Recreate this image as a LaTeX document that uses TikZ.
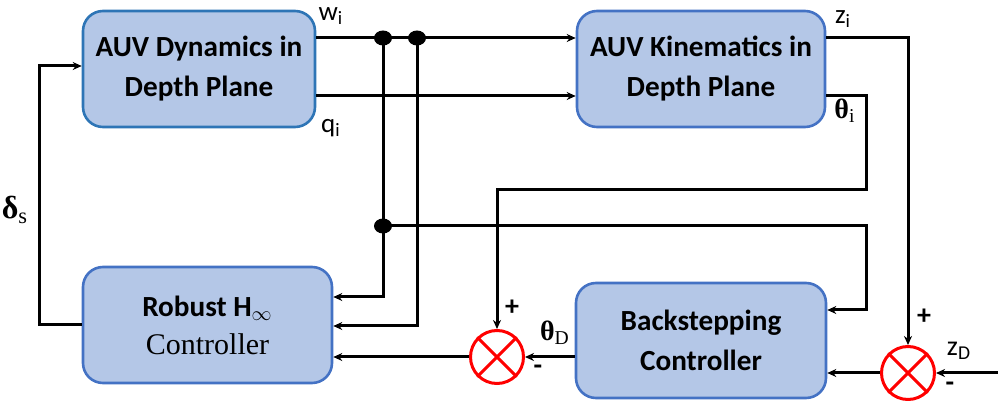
\documentclass[tikz,border=0pt]{standalone}
\usepackage{fontspec}
\setmainfont{Carlito}
\newfontfamily\seriffont{Liberation Serif}
\usetikzlibrary{arrows.meta,calc}
\definecolor{boxfill}{HTML}{B4C7E7}
\definecolor{boxborder}{HTML}{4472C4}
\definecolor{boxborderB}{HTML}{2E75B6}
\definecolor{sumred}{HTML}{FF0000}
\begin{document}
\begin{tikzpicture}[x=0.5pt,y=-0.5pt,
  blk/.style={draw=boxborder, fill=boxfill, line width=1.3pt, rounded corners=10pt,
    inner sep=0pt, align=center, font=\fontsize{14.6}{20}\selectfont\bfseries},
  sumnode/.style={circle, draw=sumred, line width=1.5pt, minimum size=26.5pt, inner sep=0pt},
  conn/.style={line width=1.5pt, black},
  arr/.style={conn, -{Stealth[length=4.5pt,width=4pt]}},
  lbl/.style={font=\fontsize{13.5}{15}\selectfont, inner sep=0pt},
  grk/.style={font=\seriffont\fontsize{14}{16}\selectfont\bfseries, inner sep=0pt},
  sgn/.style={font=\fontsize{14}{16}\selectfont\bfseries, inner sep=0pt},
  jdot/.style={fill=black, draw=none}]
\useasboundingbox (0,0) rectangle (998,401);

% blocks
\node[blk, draw=boxborderB, minimum width=116pt, minimum height=58pt] (dyn) at (199,69) {AUV Dynamics in\\Depth Plane};
\node[blk, minimum width=124pt, minimum height=58pt] (kin) at (701,69) {AUV Kinematics in\\Depth Plane};
\node[blk, minimum width=124.5pt, minimum height=58pt] (rob) at (207.5,325)
  {Robust H$_{\infty}$\\[-1pt]{\seriffont\mdseries\fontsize{15}{16}\selectfont Controller}};
\node[blk, minimum width=125pt, minimum height=57.5pt] (bck) at (701,340.5) {Backstepping\\Controller};

% summing junctions
\node[sumnode] (s1) at (497,357) {};
\node[sumnode] (s2) at (908,373) {};
\foreach \s in {s1,s2}{
  \draw[sumred, line width=1.5pt] (\s.north west) -- (\s.south east);
  \draw[sumred, line width=1.5pt] (\s.north east) -- (\s.south west);
}

% coordinates
\coordinate (j1) at (383,38);
\coordinate (j2) at (417,38);
\coordinate (j3) at (383,226);
\coordinate (qa) at (450,96);
\coordinate (r1) at (360,297);
\coordinate (r2) at (400,326);
\coordinate (c1) at (866,226);
\coordinate (c2) at (866,310);
\coordinate (t1) at (866,96);
\coordinate (t2) at (866,190);
\coordinate (t3) at (497,190);
\coordinate (zc) at (908,38);
\coordinate (zin) at (998,373);
\coordinate (d1) at (39,325);
\coordinate (d2) at (39,66);

% connectors
\draw[arr] (dyn.east |- j1) -- (kin.west |- j1);
\draw[arr] (dyn.east |- qa) -- (kin.west |- qa);
\draw[arr] (j1) -- (j1 |- r1) -- (rob.east |- r1);
\draw[arr] (j2) -- (j2 |- r2) -- (rob.east |- r2);
\draw[arr] (j3) -- (c1) -- (c2) -- (bck.east |- c2);
\draw[arr] (kin.east |- t1) -- (t1) -- (t2) -- (t3) -- (s1.north);
\draw[arr] (kin.east |- zc) -- (zc) -- (s2.north);
\draw[arr] (zin) -- (s2.east);
\draw[arr] (s2.west) -- (bck.east |- s2);
\draw[arr] (bck.west |- s1) -- (s1.east);
\draw[arr] (s1.west) -- (rob.east |- s1);
\draw[arr] (rob.west |- d1) -- (d1) -- (d2) -- (dyn.west |- d2);

% junction dots
\foreach \j in {j1,j2,j3}{
  \fill[jdot] (\j) ellipse [x radius=9, y radius=7.5];
}

% labels
\node[lbl] (lw) at (331,16) {w\textsubscript{i}};
\node[lbl] (lq) at (331,128) {q\textsubscript{i}};
\node[lbl] (lz) at (843,19) {z\textsubscript{i}};
\node[grk] (lt) at (845,111) {θ{\mdseries\textsubscript{i}}};
\node[grk] (ltd) at (555,333) {θ{\mdseries\textsubscript{D}}};
\node[lbl, font=\fontsize{14}{16}\selectfont] (lzd) at (959,351) {z\textsubscript{D}};
\node[grk, font=\seriffont\fontsize{16}{18}\selectfont\bfseries] (lds) at (15,210) {δ{\mdseries\textsubscript{s}}};
\node[sgn] (p1) at (512,308) {+};
\node[sgn] (m1) at (538,370) {-};
\node[sgn] (p2) at (924,317) {+};
\node[sgn] (m2) at (950,387) {-};
\end{tikzpicture}
\end{document}
